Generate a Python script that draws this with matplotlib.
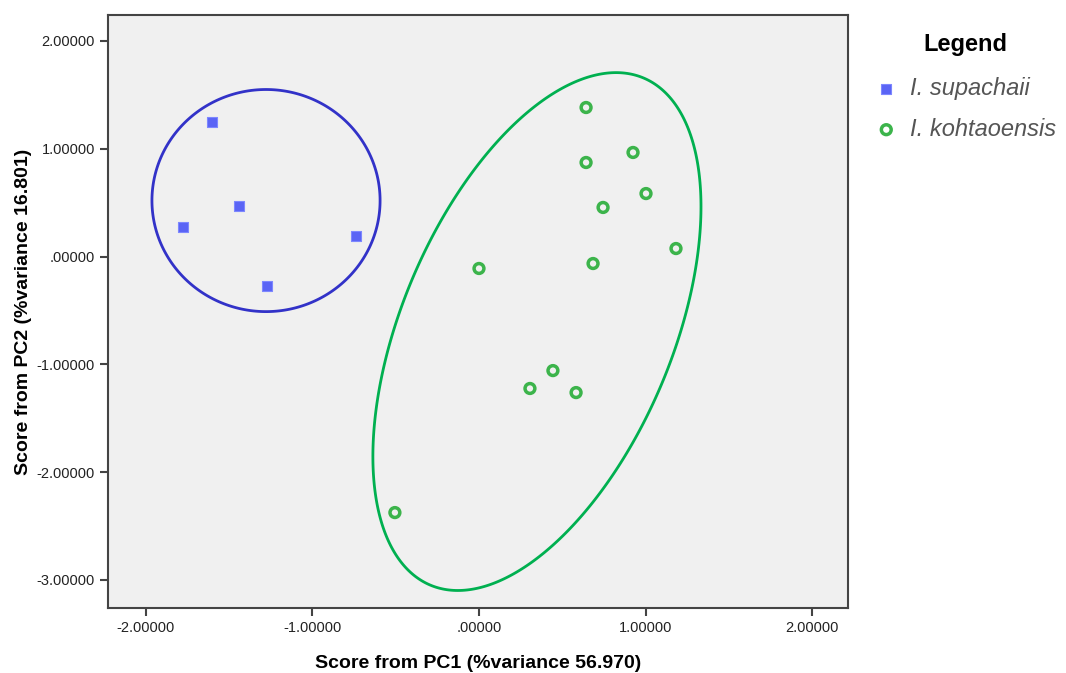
import numpy as np
import matplotlib
matplotlib.use("Agg")
import matplotlib.pyplot as plt
from matplotlib.patches import Polygon

plt.rcParams['font.family'] = ['Liberation Sans', 'DejaVu Sans']

# PCA scores
sup_pc1 = [-1.604, -1.441, -1.778, -1.273, -0.739]
sup_pc2 = [1.243, 0.464, 0.278, -0.269, 0.186]

koh_pc1 = [0.643, 0.643, 0.925, 1.003, 0.745, 1.183, 0.685, 0.000, 0.444, 0.306, 0.583, -0.505]
koh_pc2 = [1.382, 0.872, 0.965, 0.584, 0.455, 0.074, -0.065, -0.111, -1.058, -1.224, -1.262, -2.375]

ticks = [-3, -2, -1, 0, 1, 2]

# group ellipses: centre, first axis vector, second axis vector (data units)
sup_ell = ((-1.279, 0.519), (0.685, 0.0), (0.0, 1.030))
koh_ell = ((0.348, -0.696), (0.640, 2.352), (0.749, -0.486))


def fmt(v, pos=None):
    s = "%.5f" % v
    if s.startswith("0"):
        s = s[1:]
    elif s.startswith("-0"):
        s = "-" + s[2:]
    return s


fig = plt.figure(figsize=(10.66, 6.73), dpi=100)
ax = fig.add_axes([0.1013, 0.0966, 0.6942, 0.8811])
ax.set_facecolor("#f0f0f0")

t = np.linspace(0, 2 * np.pi, 400, endpoint=False)
for (c, u, w), col in [(sup_ell, "#3232c8"), (koh_ell, "#00b050")]:
    ex = c[0] + u[0] * np.cos(t) + w[0] * np.sin(t)
    ey = c[1] + u[1] * np.cos(t) + w[1] * np.sin(t)
    ax.add_patch(Polygon(np.column_stack([ex, ey]), closed=True, fill=False,
                         edgecolor=col, lw=2, zorder=2))

ax.scatter(sup_pc1, sup_pc2, marker="s", s=55, color="#5a64f5",
           edgecolors="#7d87ff", linewidths=0.8, zorder=3, label="I. supachaii")
ax.scatter(koh_pc1, koh_pc2, marker="o", s=50, facecolors="none",
           edgecolors="#3cb44b", linewidths=2.5, zorder=3, label="I. kohtaoensis")

ax.set_xlim(-2.228, 2.216)
ax.set_ylim(-3.26, 2.24)
ax.set_xticks(ticks[1:])
ax.set_yticks(ticks)
ax.xaxis.set_major_formatter(plt.FuncFormatter(fmt))
ax.yaxis.set_major_formatter(plt.FuncFormatter(fmt))
ax.tick_params(direction="out", length=6, width=1.5, color="#444444",
               labelsize=10.5, labelcolor="#222222")

for sp in ax.spines.values():
    sp.set_color("#444444")
    sp.set_linewidth(1.5)

ax.set_xlabel("Score from PC1 (%variance 56.970)", fontsize=14, fontweight="bold", labelpad=14)
ax.set_ylabel("Score from PC2 (%variance 16.801)", fontsize=14, fontweight="bold", labelpad=3)

leg = ax.legend(loc="upper left", bbox_to_anchor=(1.023, 0.985), frameon=False,
                title="Legend", title_fontproperties={"weight": "bold", "size": 17},
                prop={"style": "italic", "size": 17}, handletextpad=0.5,
                labelspacing=0.75, borderaxespad=0.0, handlelength=1.0)
leg._legend_box.sep = 15
for txt in leg.get_texts():
    txt.set_color("#555555")

fig.savefig("out.png", dpi=100)
